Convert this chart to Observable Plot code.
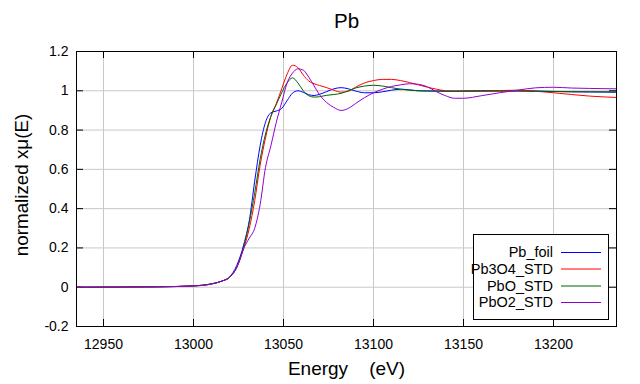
<!DOCTYPE html>
<html>
<head>
<meta charset="utf-8">
<script src="https://cdn.jsdelivr.net/npm/d3@7"></script>
<script src="https://cdn.jsdelivr.net/npm/@observablehq/plot@0.6"></script>
<style>
  html, body { margin: 0; padding: 0; background: white; }
  #wrap { position: relative; width: 640px; height: 384px; font-family: "Liberation Sans", Arial, sans-serif; }
  #legend { position: absolute; left: 0; top: 0; }
</style>
</head>
<body>
<div id="wrap"></div>
<script>
const energy = [12935, 12960, 12980, 13000, 13010, 13016, 13020, 13024, 13028, 13031, 13034, 13037, 13040, 13043, 13046, 13049, 13052, 13055, 13058, 13061, 13064, 13067, 13070, 13074, 13078, 13082, 13086, 13090, 13095, 13100, 13105, 13110, 13115, 13120, 13125, 13130, 13135, 13140, 13145, 13150, 13160, 13170, 13180, 13190, 13200, 13210, 13220, 13235];
const pbFoil = [0, 0.001, 0.002, 0.007, 0.017, 0.032, 0.052, 0.11, 0.22, 0.34, 0.54, 0.72, 0.84, 0.888, 0.897, 0.91, 0.95, 0.988, 1.0, 0.992, 0.98, 0.976, 0.982, 0.996, 1.01, 1.016, 1.01, 0.999, 0.99, 0.99, 0.995, 1.003, 1.008, 1.005, 1.0, 0.999, 0.998, 0.998, 0.998, 0.999, 1.0, 1.0, 1.0, 0.999, 0.997, 0.995, 0.994, 0.993];
const pb3o4 = [0, 0.001, 0.002, 0.007, 0.017, 0.032, 0.05, 0.1, 0.2, 0.3, 0.44, 0.62, 0.76, 0.87, 0.935, 1.01, 1.085, 1.13, 1.118, 1.08, 1.05, 1.036, 1.027, 1.016, 1.003, 0.993, 0.998, 1.018, 1.04, 1.052, 1.058, 1.058, 1.052, 1.042, 1.03, 1.018, 1.008, 1.0, 0.998, 0.998, 0.999, 1.001, 1.003, 0.998, 0.99, 0.981, 0.973, 0.966];
const pbo = [0, 0.001, 0.002, 0.007, 0.017, 0.032, 0.05, 0.1, 0.21, 0.33, 0.48, 0.65, 0.78, 0.87, 0.93, 0.99, 1.04, 1.066, 1.04, 1.0, 0.975, 0.968, 0.97, 0.977, 0.981, 0.987, 1.0, 1.014, 1.024, 1.028, 1.024, 1.016, 1.008, 1.003, 1.0, 0.999, 0.999, 0.998, 0.998, 0.998, 0.998, 0.998, 0.998, 0.997, 0.996, 0.995, 0.995, 0.994];
const pbo2 = [0, 0.001, 0.002, 0.006, 0.016, 0.032, 0.05, 0.1, 0.2, 0.25, 0.3, 0.42, 0.61, 0.72, 0.84, 0.94, 1.04, 1.09, 1.112, 1.105, 1.07, 1.025, 0.98, 0.94, 0.915, 0.90, 0.91, 0.935, 0.965, 0.99, 1.008, 1.022, 1.03, 1.036, 1.033, 1.02, 0.995, 0.975, 0.962, 0.962, 0.975, 0.99, 1.003, 1.015, 1.018, 1.014, 1.012, 1.01];

const seriesNames = ["Pb_foil", "Pb3O4_STD", "PbO_STD", "PbO2_STD"];
const seriesValues = [pbFoil, pb3o4, pbo, pbo2];
const seriesColors = ["#0000ff", "#ff0000", "#006400", "#9400d3"];
const xTicks = [12950, 13000, 13050, 13100, 13150, 13200];
const yTicks = [-0.2, 0, 0.2, 0.4, 0.6, 0.8, 1, 1.2];

const rows = [];
seriesNames.forEach((name, k) => {
  energy.forEach((e, i) => rows.push({E: e, v: seriesValues[k][i], s: name}));
});

const W = 640, H = 384, mT = 51, mL = 76, mR = 24, mB = 58;
const frameW = W - mL - mR, frameH = H - mT - mB;
const tk = 7;
const font = "'Liberation Sans', Arial, sans-serif";

const chart = Plot.plot({
  width: W, height: H,
  marginTop: mT, marginLeft: mL, marginRight: mR, marginBottom: mB,
  style: {fontFamily: font, background: "white", color: "black", overflow: "visible"},
  x: {domain: [12935, 13235]},
  y: {domain: [-0.2, 1.2]},
  color: {domain: seriesNames, range: seriesColors},
  marks: [
    Plot.gridX(xTicks, {stroke: "#c8c8c8", strokeOpacity: 1, strokeWidth: 1}),
    Plot.gridY(yTicks, {stroke: "#c8c8c8", strokeOpacity: 1, strokeWidth: 1}),
    Plot.tickX(xTicks, {x: d => d, stroke: "black", insetTop: frameH - tk}),
    Plot.tickX(xTicks, {x: d => d, stroke: "black", insetBottom: frameH - tk}),
    Plot.tickY(yTicks, {y: d => d, stroke: "black", insetRight: frameW - tk}),
    Plot.tickY(yTicks, {y: d => d, stroke: "black", insetLeft: frameW - tk}),
    Plot.axisX(xTicks, {tickSize: 0, tickPadding: 13, fontSize: 14, label: null, tickFormat: d => String(d)}),
    Plot.axisY(yTicks, {tickSize: 0, tickPadding: 8, fontSize: 14, label: null, tickFormat: d => String(+d.toFixed(1))}),
    Plot.line(rows, {x: "E", y: "v", z: "s", stroke: "s", curve: "monotone-x", strokeWidth: 1}),
    Plot.frame({stroke: "black", strokeWidth: 1}),
    Plot.text(["Pb"], {text: d => d, frameAnchor: "top", lineAnchor: "middle", textAnchor: "middle", dy: -30, fontSize: 20.5}),
    Plot.text(["Energy\u00a0\u00a0\u00a0\u00a0(eV)"], {text: d => d, frameAnchor: "bottom", lineAnchor: "middle", textAnchor: "middle", dy: 42, fontSize: 19}),
    Plot.text(["normalized x\u03bc(E)"], {text: d => d, frameAnchor: "left", lineAnchor: "middle", textAnchor: "middle", dx: -55, dy: -4, rotate: -90, fontSize: 18.8})
  ]
});

const wrap = document.getElementById("wrap");
wrap.appendChild(chart);

// legend box
const lg = {x: 473, y: 234, w: 135, h: 85};
const rowY = [18, 34.5, 51.5, 68];
const legend = d3.create("svg")
  .attr("id", "legend")
  .attr("width", W).attr("height", H)
  .style("position", "absolute").style("left", "0px").style("top", "0px")
  .style("font-family", font);
legend.append("rect")
  .attr("x", lg.x + 0.5).attr("y", lg.y + 0.5).attr("width", lg.w).attr("height", lg.h)
  .attr("fill", "white").attr("stroke", "black").attr("stroke-width", 1);
const g = legend.append("g").selectAll("g").data(seriesNames).join("g")
  .attr("transform", (d, i) => `translate(${lg.x},${lg.y + rowY[i]})`);
g.append("text").attr("x", 80).attr("y", 0).attr("dy", "0.35em")
  .attr("text-anchor", "end").attr("font-size", 14.5).text(d => d);
g.append("line").attr("x1", 88).attr("x2", 128).attr("y1", 0.5).attr("y2", 0.5)
  .attr("stroke", (d, i) => seriesColors[i]).attr("stroke-width", 1);
wrap.appendChild(legend.node());
</script>
</body>
</html>
